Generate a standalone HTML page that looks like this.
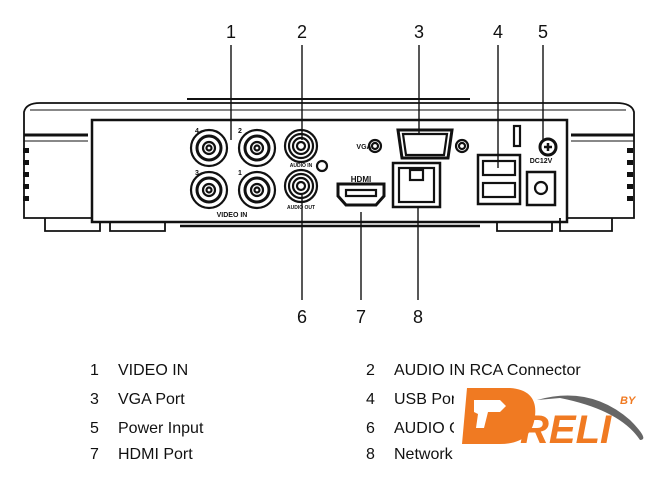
<!DOCTYPE html>
<html><head><style>
html,body{margin:0;padding:0;background:#fff;width:656px;height:488px;overflow:hidden}
svg{display:block}
</style></head><body>
<svg width="656" height="488" viewBox="0 0 656 488" xmlns="http://www.w3.org/2000/svg" font-family="Liberation Sans, sans-serif">
<g fill="none" stroke="#111" stroke-width="1.8">
<path d="M24 112 Q26 103 40 103 L616 103 Q632 103 634 112 L634 218 L24 218 Z" fill="#fff"/>
<line x1="187" y1="99" x2="470" y2="99" stroke-width="2"/>
<line x1="30" y1="110" x2="626" y2="110" stroke-width="1"/>
<rect x="92" y="120" width="475" height="102" fill="#fff" stroke-width="2.5"/>
<line x1="24" y1="135" x2="88" y2="135" stroke-width="3"/>
<line x1="571" y1="135" x2="634" y2="135" stroke-width="3"/>
<line x1="24" y1="141" x2="88" y2="141" stroke-width="1"/>
<line x1="571" y1="141" x2="634" y2="141" stroke-width="1"/>
<path d="M45 218 L45 231 L100 231 L100 222"/>
<path d="M110 222 L110 231 L165 231 L165 222"/>
<path d="M497 222 L497 231 L552 231 L552 222"/>
<path d="M560 218 L560 231 L612 231 L612 218"/>
<line x1="180" y1="226" x2="480" y2="226" stroke-width="2.5"/>
</g>
<g fill="#111">
<rect x="23" y="148" width="6" height="5"/><rect x="23" y="160" width="6" height="5"/><rect x="23" y="172" width="6" height="5"/><rect x="23" y="184" width="6" height="5"/><rect x="23" y="196" width="6" height="5"/>
<rect x="627" y="148" width="6" height="5"/><rect x="627" y="160" width="6" height="5"/><rect x="627" y="172" width="6" height="5"/><rect x="627" y="184" width="6" height="5"/><rect x="627" y="196" width="6" height="5"/>
</g>
<g fill="#fff" stroke="#111" stroke-width="2.2">
<circle cx="209" cy="148" r="18"/><circle cx="209" cy="148" r="12" stroke-width="3"/><circle cx="209" cy="148" r="6"/><circle cx="209" cy="148" r="2.5"/>
<circle cx="257" cy="148" r="18"/><circle cx="257" cy="148" r="12" stroke-width="3"/><circle cx="257" cy="148" r="6"/><circle cx="257" cy="148" r="2.5"/>
<circle cx="209" cy="190" r="18"/><circle cx="209" cy="190" r="12" stroke-width="3"/><circle cx="209" cy="190" r="6"/><circle cx="209" cy="190" r="2.5"/>
<circle cx="257" cy="190" r="18"/><circle cx="257" cy="190" r="12" stroke-width="3"/><circle cx="257" cy="190" r="6"/><circle cx="257" cy="190" r="2.5"/>
<circle cx="301" cy="146" r="16"/><circle cx="301" cy="146" r="12"/><circle cx="301" cy="146" r="8"/><circle cx="301" cy="146" r="4"/>
<circle cx="301" cy="186" r="16"/><circle cx="301" cy="186" r="12"/><circle cx="301" cy="186" r="8"/><circle cx="301" cy="186" r="4"/>
<circle cx="322" cy="166" r="5"/>
<circle cx="375" cy="146" r="6"/><circle cx="375" cy="146" r="3"/>
<circle cx="462" cy="146" r="6"/><circle cx="462" cy="146" r="3"/>
<path d="M398 130 L452 130 L448 158 L402 158 Z" stroke-width="3"/>
<path d="M403 134 L447 134 L444 155 L406 155 Z"/>
<path d="M338 184 L384 184 L384 196 L376 205 L346 205 L338 196 Z" stroke-width="3"/>
<rect x="346" y="190" width="30" height="6"/>
<rect x="393" y="163" width="47" height="44" stroke-width="2.5"/>
<rect x="399" y="168" width="35" height="34"/>
<rect x="410" y="170" width="13" height="10"/>
<rect x="478" y="155" width="42" height="49" stroke-width="2.5"/>
<rect x="483" y="161" width="32" height="14"/><rect x="483" y="183" width="32" height="14"/>
<rect x="527" y="172" width="28" height="33" stroke-width="2.5"/>
<circle cx="541" cy="188" r="6"/>
<circle cx="548" cy="147" r="8" stroke-width="3"/>
<rect x="514" y="126" width="6" height="20"/>
</g>
<g fill="#111" font-weight="bold" font-size="7" text-anchor="middle">
<text x="232" y="217">VIDEO IN</text>
<text x="301" y="209" font-size="5">AUDIO OUT</text>
<text x="301" y="167" font-size="5">AUDIO IN</text>
<text x="364" y="149">VGA</text>
<text x="361" y="182" font-size="8">HDMI</text>
<text x="541" y="163" font-size="7">DC12V</text>
<text x="197" y="133">4</text><text x="240" y="133">2</text><text x="197" y="175">3</text><text x="240" y="175">1</text>
<path d="M544 147 h8 M548 143 v8" stroke="#111" stroke-width="2.5"/>
</g>
<g stroke="#111" stroke-width="1.4">
<line x1="231" y1="45" x2="231" y2="140"/>
<line x1="302" y1="45" x2="302" y2="140"/>
<line x1="419" y1="45" x2="419" y2="135"/>
<line x1="498" y1="45" x2="498" y2="168"/>
<line x1="543" y1="45" x2="543" y2="140"/>
<line x1="302" y1="195" x2="302" y2="300"/>
<line x1="361" y1="212" x2="361" y2="300"/>
<line x1="418" y1="208" x2="418" y2="300"/>
</g>
<g fill="#111" font-size="18" text-anchor="middle">
<text x="231" y="38">1</text><text x="302" y="38">2</text><text x="419" y="38">3</text><text x="498" y="38">4</text><text x="543" y="38">5</text>
<text x="302" y="323">6</text><text x="361" y="323">7</text><text x="418" y="323">8</text>
</g>
<g fill="#111" font-size="16">
<text x="90" y="375">1</text><text x="118" y="375">VIDEO IN</text>
<text x="90" y="404">3</text><text x="118" y="404">VGA Port</text>
<text x="90" y="433">5</text><text x="118" y="433">Power Input</text>
<text x="90" y="459">7</text><text x="118" y="459">HDMI Port</text>
<text x="366" y="375">2</text><text x="394" y="375">AUDIO IN  RCA Connector</text>
<text x="366" y="404">4</text><text x="394" y="404">USB Port</text>
<text x="366" y="433">6</text><text x="394" y="433">AUDIO OUT</text>
<text x="366" y="459">8</text><text x="394" y="459">Network</text>
</g>
<rect x="454" y="383" width="202" height="80" fill="#fff"/>
<path d="M537 400 Q590 385 630 420 Q650 440 640 440 Q620 410 560 398 Z" fill="#666"/>
<g fill="#f07a22" font-weight="bold" font-style="italic">
<path d="M467 388 L510 388 Q538 390 535 416 Q532 444 500 444 L462 444 Z" />
<text x="520" y="443" font-size="40">RELI</text>
<text x="620" y="404" font-size="11">BY</text>
</g>
<path d="M474 400 L500 400 L506 406 L500 412 L488 412 L484 428 L476 428 L478 414 L474 412 Z" fill="#fff"/>
</svg>
</body></html>
